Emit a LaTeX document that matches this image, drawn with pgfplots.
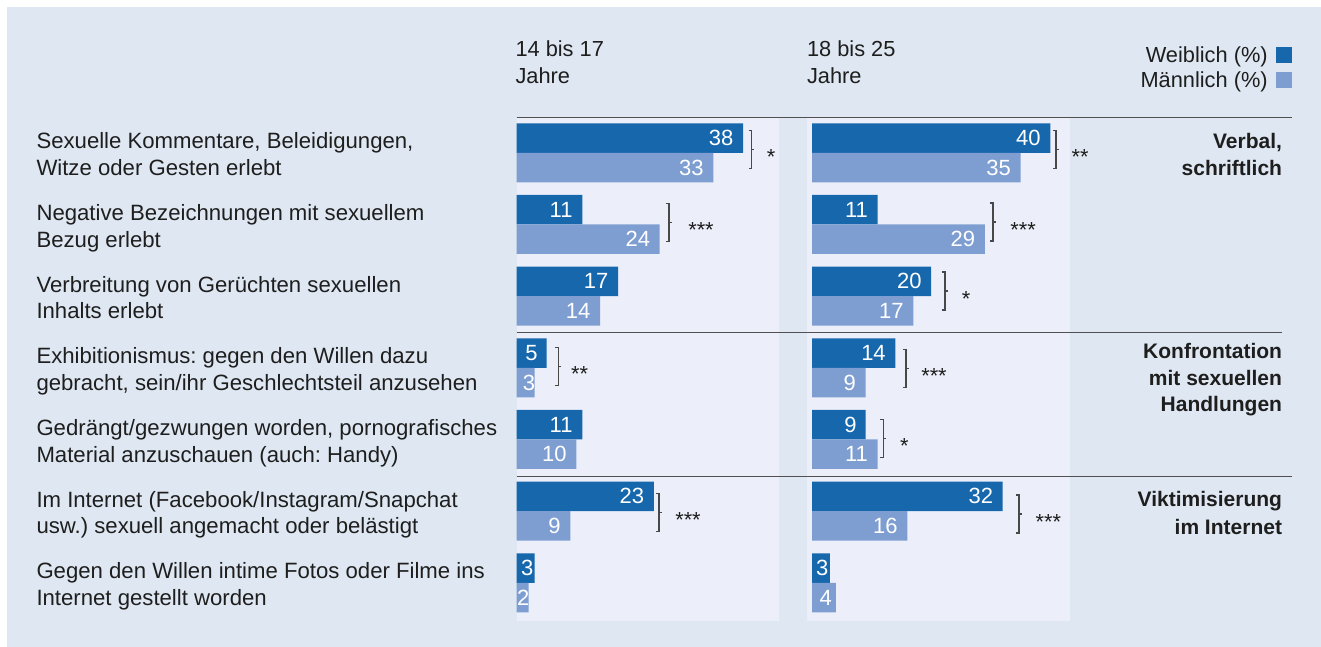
\documentclass[border=0pt]{standalone}
\usepackage{fontspec}
\setmainfont{Liberation Sans}
\usepackage{pgfplots}
\pgfplotsset{compat=1.18}
\usepackage{pgfplotstable}
\definecolor{bg}{HTML}{DFE8F2}
\definecolor{panel}{HTML}{ECEFFA}
\definecolor{fem}{HTML}{1667AC}
\definecolor{mal}{HTML}{7E9ED2}
\definecolor{txt}{HTML}{1E1E1E}
\definecolor{rulec}{HTML}{505050}
\frenchspacing

% Panel 1: 14 bis 17 Jahre (y = row position in layout units)
\pgfplotstableread{
val y
38 138.05
11 209.7
17 281.4
5 353.05
11 424.7
23 496.4
3 568.05
}\pfem
\pgfplotstableread{
val y
33 167.55
24 239.2
14 310.9
3 382.55
10 454.2
9 525.9
2 597.55
}\pmal
% Panel 2: 18 bis 25 Jahre
\pgfplotstableread{
val y
40 138.05
11 209.7
20 281.4
14 353.05
9 424.7
32 496.4
3 568.05
}\qfem
\pgfplotstableread{
val y
35 167.55
29 239.2
17 310.9
9 382.55
11 454.2
16 525.9
4 597.55
}\qmal

\newcommand\lbl{\fontsize{10.9pt}{13pt}\selectfont}
\newcommand\lft{\fontsize{11.08pt}{13pt}\selectfont}
\newcommand\bld{\fontsize{10.5pt}{13pt}\selectfont\bfseries}
\newcommand\vfont{\fontsize{11pt}{12pt}\selectfont}
\tikzset{
  tx/.style={inner sep=0pt, outer sep=0pt, text=txt, font=\lbl},
  lt/.style={inner sep=0pt, outer sep=0pt, text=txt, font=\lft, anchor=base west},
  vl/.style={inner sep=0pt, outer sep=0pt, text=white, font=\vfont, anchor=east},
  brk/.style={draw=rulec!90!black, line width=0.6pt},
}
\newcommand\brk[4]{%
  \draw[brk] (#1-3.2,#2-19) -- (#1,#2-19) -- (#1,#2+19) -- (#1-3.2,#2+19);
  \draw[brk] (#1,#2) -- (#1+2.6,#2);
  \node[tx, anchor=base] at (#3,#2+15) {#4};}
\newcommand\vlab[3]{\node[vl] at (axis cs:#1,#2) {#3};}

\pgfplotsset{panelax/.style={
  scale only axis, height=251.7pt, y dir=reverse, ymin=117.3, ymax=620.7,
  axis lines=none, xtick=\empty, ytick=\empty, clip=false, anchor=south west}}

\begin{document}
\begin{tikzpicture}[x=0.5pt, y=-0.5pt]
\useasboundingbox (0,0) rectangle (1321,647);
\fill[white] (0,0) rectangle (1321,647);
\fill[bg] (7,7) rectangle (1321,647);
\fill[panel] (516.7,117.3) rectangle (778.5,620.7);
\fill[panel] (807,117.3) rectangle (1070,620.7);
\coordinate (A1) at (516.7,620.7);
\coordinate (A2) at (807,620.7);

\begin{axis}[panelax, at={(A1)}, width=130.9pt, xmin=0, xmax=43.93]
\addplot[xbar, bar width=29.5, bar shift=0pt, fill=fem, draw=none] table[x=val, y=y] {\pfem};
\addplot[xbar, bar width=29.5, bar shift=0pt, fill=mal, draw=none] table[x=val, y=y] {\pmal};
\vlab{36.37}{138.05}{38}
\vlab{9.37}{209.7}{11}
\vlab{15.37}{281.4}{17}
\vlab{3.5}{353.05}{5}
\vlab{9.37}{424.7}{11}
\vlab{21.37}{496.4}{23}
\vlab{2.79}{568.05}{3}
\vlab{31.37}{167.55}{33}
\vlab{22.37}{239.2}{24}
\vlab{12.37}{310.9}{14}
\vlab{3.07}{382.55}{3}
\vlab{8.37}{454.2}{10}
\vlab{7.37}{525.9}{9}
\vlab{2.11}{597.55}{2}
\end{axis}

\begin{axis}[panelax, at={(A2)}, width=131.5pt, xmin=-0.839, xmax=43.29]
\addplot[xbar, bar width=29.5, bar shift=0pt, fill=fem, draw=none] table[x=val, y=y] {\qfem};
\addplot[xbar, bar width=29.5, bar shift=0pt, fill=mal, draw=none] table[x=val, y=y] {\qmal};
\vlab{38.37}{138.05}{40}
\vlab{9.37}{209.7}{11}
\vlab{18.37}{281.4}{20}
\vlab{12.37}{353.05}{14}
\vlab{7.5}{424.7}{9}
\vlab{30.37}{496.4}{32}
\vlab{2.74}{568.05}{3}
\vlab{33.37}{167.55}{35}
\vlab{27.37}{239.2}{29}
\vlab{15.37}{310.9}{17}
\vlab{7.37}{382.55}{9}
\vlab{9.37}{454.2}{11}
\vlab{14.37}{525.9}{16}
\vlab{3.31}{597.55}{4}
\end{axis}

% separator rules
\draw[rulec, line width=0.75pt] (516.7,117.3) -- (1292,117.3);
\draw[rulec, line width=0.75pt] (516.7,332.7) -- (1281.7,332.7);
\draw[rulec, line width=0.75pt] (516.7,476.3) -- (1292,476.3);

% significance brackets
\brk{751.7}{149.7}{771}{*}
\brk{669}{222.2}{701}{***}
\brk{558.3}{366.2}{579.5}{**}
\brk{659}{512.5}{688}{***}
\brk{1056}{149.7}{1080}{**}
\brk{993}{222}{1023}{***}
\brk{945}{291}{966}{*}
\brk{906}{368.5}{934}{***}
\brk{883.3}{438.3}{904.3}{*}
\brk{1019}{514}{1048.3}{***}

% headers
\node[tx, anchor=base west] at (515.5,56.7) {14 bis 17};
\node[tx, anchor=base west] at (515.5,83.3) {Jahre};
\node[tx, anchor=base west] at (807,56.7) {18 bis 25};
\node[tx, anchor=base west] at (807,83.3) {Jahre};

% legend
\node[tx, anchor=base east] at (1267.7,62.3) {Weiblich (\%)};
\node[tx, anchor=base east] at (1267.7,87.3) {Männlich (\%)};
\fill[fem] (1276,46.7) rectangle (1292.3,62.7);
\fill[mal] (1276,71.7) rectangle (1292.3,87.7);

% left labels
\node[lt] at (36.5,148.8) {Sexuelle Kommentare, Beleidigungen,};
\node[lt] at (36.5,175.5) {Witze oder Gesten erlebt};
\node[lt] at (36.5,220.5) {Negative Bezeichnungen mit sexuellem};
\node[lt] at (36.5,247.2) {Bezug erlebt};
\node[lt] at (36.5,292.1) {Verbreitung von Gerüchten sexuellen};
\node[lt] at (36.5,318.8) {Inhalts erlebt};
\node[lt] at (36.5,363.8) {Exhibitionismus: gegen den Willen dazu};
\node[lt] at (36.5,390.5) {gebracht, sein/ihr Geschlechtsteil anzusehen};
\node[lt] at (36.5,435.5) {Gedrängt/gezwungen worden, pornografisches};
\node[lt] at (36.5,462.2) {Material anzuschauen (auch: Handy)};
\node[lt] at (36.5,507.1) {Im Internet (Facebook/Instagram/Snapchat};
\node[lt] at (36.5,533.8) {usw.) sexuell angemacht oder belästigt};
\node[lt] at (36.5,578.8) {Gegen den Willen intime Fotos oder Filme ins};
\node[lt] at (36.5,605.5) {Internet gestellt worden};

% right group labels
\begin{scope}[every node/.style={inner sep=0pt, outer sep=0pt, text=txt, anchor=base east, font=\bld}]
\node at (1282,148.8) {Verbal,};
\node at (1282,175.5) {schriftlich};
\node at (1282,358.3) {Konfrontation};
\node at (1282,385) {mit sexuellen};
\node at (1282,411.7) {Handlungen};
\node at (1282,506.7) {Viktimisierung};
\node at (1282,534) {im Internet};
\end{scope}
\end{tikzpicture}
\end{document}
